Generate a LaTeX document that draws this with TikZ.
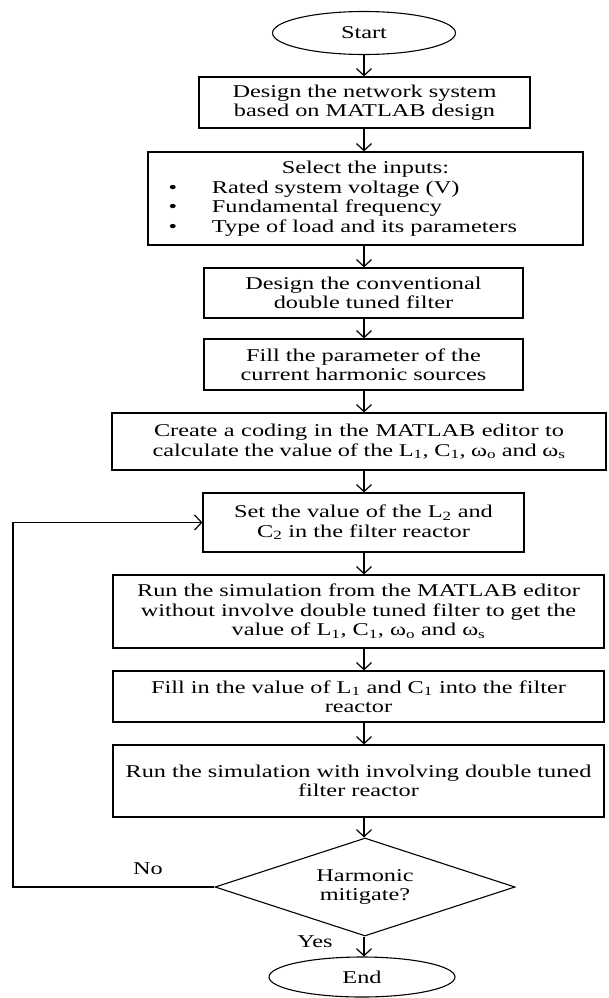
\documentclass[tikz,border=0pt]{standalone}
\usepackage{fontspec}
\setmainfont[FakeStretch=1.35]{Liberation Serif}
\usetikzlibrary{shapes.geometric,arrows.meta}

\begin{document}
\begin{tikzpicture}[x=1pt,y=-1pt,
  every node/.style={font=\fontsize{18}{19.5}\selectfont},
  boxstyle/.style={rectangle,draw,line width=1.2pt,align=center,inner sep=2pt},
  termstyle/.style={ellipse,draw,line width=1.1pt,inner sep=0pt},
  decstyle/.style={diamond,draw,line width=1.1pt,align=center,inner sep=0pt,shape aspect=3},
  flowline/.style={line width=1.2pt,-{Straight Barb[length=7pt,width=15pt]}}]
\useasboundingbox (0,0) rectangle (608,998);
\coordinate (axis) at (364,0);
% main column
\node[termstyle,minimum width=183pt,minimum height=43pt] (start) at (364,33) {Start};
\node[boxstyle,minimum width=331pt,minimum height=51pt] (b1) at (364.5,102.5)
  {Design the network system\\based on MATLAB design};
\node[boxstyle,minimum width=435pt,minimum height=93pt,align=left,text width=431pt] (b2) at (365.5,198.5)
  {\makebox[431pt][c]{Select the inputs:}\\
   \hspace*{19pt}\makebox[8pt][c]{\textbullet}\hspace*{35pt}Rated system voltage (V)\\
   \hspace*{19pt}\makebox[8pt][c]{\textbullet}\hspace*{35pt}Fundamental frequency\\
   \hspace*{19pt}\makebox[8pt][c]{\textbullet}\hspace*{35pt}Type of load and its parameters};
\node[boxstyle,minimum width=319pt,minimum height=50pt] (b3) at (363.5,293)
  {Design the conventional\\double tuned filter};
\node[boxstyle,minimum width=319pt,minimum height=51pt] (b4) at (363.5,364.5)
  {Fill the parameter of the\\current harmonic sources};
\node[boxstyle,minimum width=494pt,minimum height=57pt] (b5) at (359,441.5)
  {\makebox[410pt][s]{Create a coding in the MATLAB editor to}\\
   \makebox[413pt][s]{calculate the value of the L\textsubscript{1}, C\textsubscript{1}, ω\textsubscript{o} and ω\textsubscript{s}}};
\node[boxstyle,minimum width=321pt,minimum height=59pt] (b6) at (363.5,522.5)
  {Set the value of the L\textsubscript{2} and\\C\textsubscript{2} in the filter reactor};
\node[boxstyle,minimum width=491pt,minimum height=73pt] (b7) at (358.5,611.5)
  {Run the simulation from the MATLAB editor\\without involve double tuned filter to get the\\value of L\textsubscript{1}, C\textsubscript{1}, ω\textsubscript{o} and ω\textsubscript{s}};
\node[boxstyle,minimum width=491pt,minimum height=51pt] (b8) at (358.5,696.5)
  {Fill in the value of L\textsubscript{1} and C\textsubscript{1} into the filter\\reactor};
\node[boxstyle,minimum width=491pt,minimum height=72pt] (b9) at (358.5,781)
  {Run the simulation with involving double tuned\\filter reactor};
\node[decstyle,minimum width=300pt,minimum height=98pt] (dec) at (365,887)
  {Harmonic\\mitigate?};
\node[termstyle,minimum width=186pt,minimum height=40pt] (stop) at (362,977) {End};
% arrows
\foreach \a/\b in {start/b1,b1/b2,b2/b3,b3/b4,b4/b5,b5/b6,b6/b7,b7/b8,b8/b9,b9/dec,dec/stop}
  \draw[flowline] (\a.south -| axis) -- (\b.north -| axis);
% loop back
\coordinate (back) at (13,887);
\draw[flowline] (dec.west) -- (back) |- (b6.west);
\node (no) at (148,869) {No};
\node (yes) at (315,942) {Yes};
\end{tikzpicture}
\end{document}
